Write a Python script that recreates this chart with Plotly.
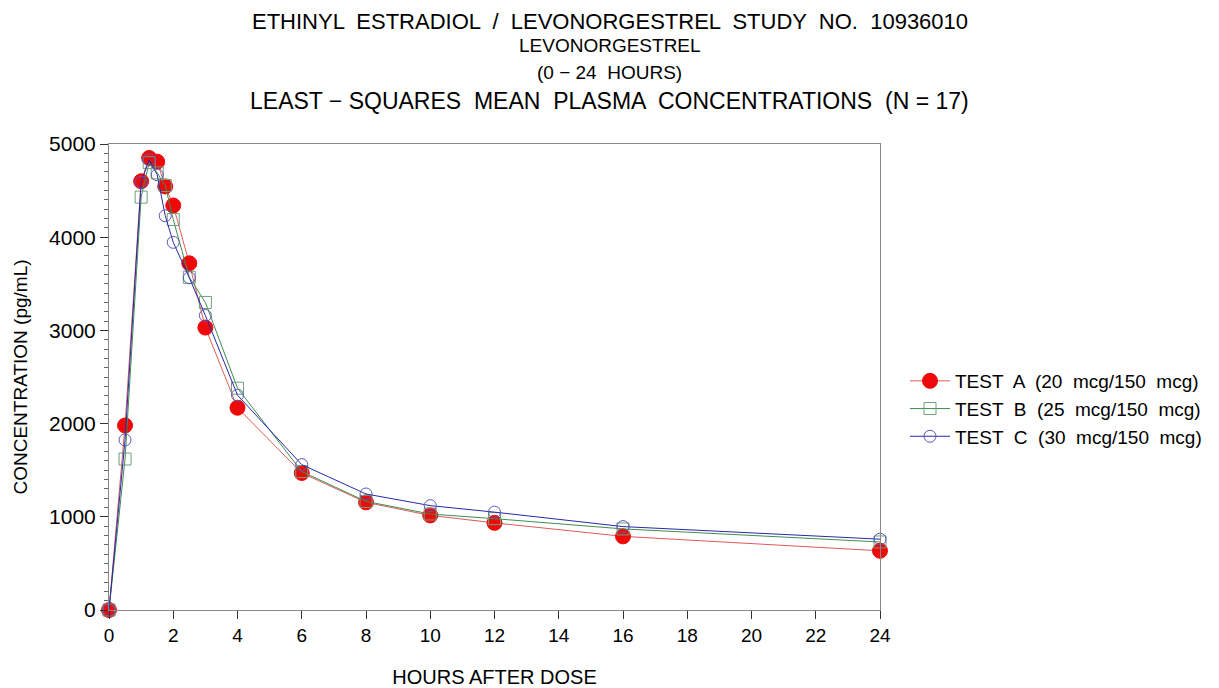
import plotly.graph_objects as go

hours = [0, 0.5, 1, 1.25, 1.5, 1.75, 2, 2.5, 3, 4, 6, 8, 10, 12, 16, 24]
test_a = [0, 1980, 4600, 4850, 4810, 4545, 4340, 3720, 3030, 2170, 1470, 1155, 1015, 935, 790, 635]
test_b = [0, 1620, 4430, 4800, 4690, 4555, 4190, 3570, 3300, 2380, 1485, 1165, 1030, 980, 870, 730]
test_c = [0, 1825, 4590, 4830, 4670, 4230, 3945, 3565, 3160, 2305, 1560, 1245, 1120, 1050, 895, 760]
names = ["TEST  A  (20  mcg/150  mcg)", "TEST  B  (25  mcg/150  mcg)", "TEST  C  (30  mcg/150  mcg)"]
x_ticks = list(range(0, 25, 2))
y_ticks = [0, 1000, 2000, 3000, 4000, 5000]

FONT = "Liberation Sans Narrow, Liberation Sans, Arial, sans-serif"
TICKFONT = "Liberation Sans, Arial, sans-serif"

# page body has an 8px margin; plot area target: x 109..880, y 144..610
OFF = 8
L, T = 109 - OFF, 144 - OFF
R = (1219 + OFF) - 880
B = (688 + OFF) - 610
PW, PH = 880 - 109, 610 - 144

fig = go.Figure()
fig.add_trace(go.Scatter(x=hours, y=test_a, name=names[0], mode="lines+markers",
                         line=dict(color="#e05a5a", width=1),
                         marker=dict(symbol="circle", size=15, color="#ee0a0a",
                                     line=dict(color="#ee0a0a", width=1)),
                         cliponaxis=False))
fig.add_trace(go.Scatter(x=hours, y=test_b, name=names[1], mode="lines+markers",
                         line=dict(color="#3f8f4f", width=1),
                         marker=dict(symbol="square-open", size=12, color="#6f9f7a",
                                     line=dict(width=1)),
                         cliponaxis=False))
fig.add_trace(go.Scatter(x=hours, y=test_c, name=names[2], mode="lines+markers",
                         line=dict(color="#2828a8", width=1),
                         marker=dict(symbol="circle-open", size=12, color="#5a5ab8",
                                     line=dict(width=1)),
                         cliponaxis=False))

fig.update_layout(
    width=1219, height=688,
    margin=dict(l=L, r=R, t=T, b=B),
    paper_bgcolor="white", plot_bgcolor="white",
    font=dict(family=TICKFONT, color="black"),
    showlegend=True,
    legend=dict(x=(905 - 109) / PW, y=1 - (409 - 144) / PH, xanchor="left", yanchor="middle",
                font=dict(family=TICKFONT, size=19, color="black"),
                itemwidth=40, tracegroupgap=0, bgcolor="rgba(0,0,0,0)"),
)

fig.update_xaxes(range=[0, 24], tickvals=x_ticks, ticktext=[str(v) for v in x_ticks],
                 showgrid=False, zeroline=False, showline=True, linecolor="#888888",
                 linewidth=1, mirror=True, ticks="outside", ticklen=8, tickcolor="#333333",
                 tickfont=dict(family=TICKFONT, size=19, color="black"),
                 title=dict(text="HOURS AFTER DOSE", standoff=25,
                            font=dict(family=FONT, size=20, color="black")))
fig.update_yaxes(range=[0, 5000], tickvals=y_ticks, ticktext=[str(v) for v in y_ticks],
                 showgrid=False, zeroline=False, showline=True, linecolor="#888888",
                 linewidth=1, mirror=True, ticks="outside", ticklen=8, tickcolor="#333333",
                 minor=dict(dtick=100, ticks="outside", ticklen=4, tickcolor="#666666"),
                 tickfont=dict(family=TICKFONT, size=21, color="black"),
                 title=dict(text="CONCENTRATION (pg/mL)", standoff=16,
                            font=dict(family=FONT, size=19, color="black")))

title_lines = [
    ("ETHINYL  ESTRADIOL  /  LEVONORGESTREL  STUDY  NO.  10936010", 22, 21),
    ("LEVONORGESTREL", 19, 46),
    ("(0 \u2212 24  HOURS)", 19, 72),
    ("LEAST \u2212 SQUARES  MEAN  PLASMA  CONCENTRATIONS  (N = 17)", 23, 101),
]
for text, size, ypx in title_lines:
    fig.add_annotation(text=text, xref="paper", yref="paper", x=(609.5 - 109) / PW,
                       y=1 + (144 - ypx) / PH, xanchor="center", yanchor="middle",
                       showarrow=False, font=dict(family=FONT, size=size, color="black"))

fig.write_html("out.html")
